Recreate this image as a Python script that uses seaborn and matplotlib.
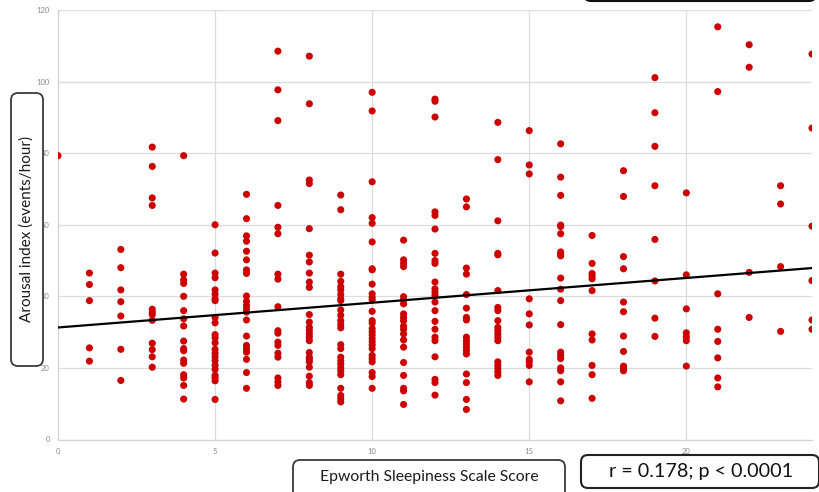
import numpy as np
import pandas as pd
import matplotlib
matplotlib.use("Agg")
import matplotlib.pyplot as plt
import seaborn as sns
from matplotlib.patches import FancyBboxPatch
from matplotlib.transforms import IdentityTransform

# arousal index (events/hour) read per Epworth score
score_0 = [79.3]
score_1 = [46.5, 43.3, 38.8, 25.6, 21.9]
score_2 = [53.1, 48.0, 41.8, 38.5, 34.5, 25.2, 16.5]
score_3 = [81.7, 76.3, 67.5, 65.4, 36.4, 35.6, 34.9, 33.3, 26.9, 25.1, 23.1, 20.2]
score_4 = [79.3, 46.2, 44.6, 43.6, 40.0, 36.0, 33.7, 31.7, 27.5, 25.4, 24.8, 22.2,
           21.3, 18.1, 17.2, 15.1, 11.3]
score_5 = [60.0, 52.1, 46.5, 45.2, 41.8, 40.6, 39.3, 38.8, 34.1, 32.6, 29.3, 28.4,
           27.0, 25.2, 24.1, 23.1, 22.0, 20.7, 19.6, 17.9, 17.2, 16.4, 11.2]
score_6 = [68.5, 61.7, 56.9, 55.4, 52.6, 50.2, 47.4, 46.4, 40.1, 38.6, 37.5, 36.5,
           35.6, 33.4, 28.9, 26.3, 25.4, 24.4, 22.4, 18.7, 14.3]
score_7 = [108.5, 97.7, 89.1, 65.4, 59.3, 57.5, 46.2, 44.8, 37.1, 30.4, 29.7, 27.2,
           26.3, 24.1, 23.0, 17.2, 16.1, 15.1]
score_8 = [107.1, 93.8, 72.5, 71.5, 58.9, 51.5, 49.6, 46.5, 44.0, 42.5, 34.9, 32.8,
           31.3, 30.4, 29.5, 28.6, 27.6, 24.3, 23.0, 22.4, 21.7, 20.2, 17.7, 15.9, 15.1]
score_9 = [68.3, 64.2, 46.2, 44.2, 42.7, 41.8, 40.5, 39.3, 38.8, 36.2, 34.7, 33.2,
           32.1, 31.2, 26.5, 25.4, 23.0, 22.0, 21.1, 20.0, 19.2, 18.1, 14.3, 12.3,
           11.4, 10.5]
score_10 = [97.0, 91.8, 72.0, 62.0, 60.4, 55.2, 47.7, 47.4, 43.4, 40.7, 39.7, 39.0,
            35.8, 33.2, 32.5, 31.0, 30.1, 29.2, 28.2, 27.3, 26.4, 25.4, 23.5, 22.6,
            21.7, 18.7, 17.6, 14.3]
score_11 = [55.7, 50.2, 49.2, 48.3, 39.9, 39.0, 37.9, 35.1, 34.1, 33.2, 31.7, 30.8,
            29.5, 27.8, 25.8, 21.5, 17.9, 14.3, 13.6, 9.8]
score_12 = [95.1, 94.5, 90.1, 63.6, 62.6, 58.8, 52.0, 50.0, 49.2, 44.0, 42.1, 41.2,
            40.3, 38.4, 36.0, 33.0, 30.8, 28.6, 27.6, 23.1, 16.8, 15.9, 12.4]
score_13 = [67.2, 65.0, 47.9, 46.2, 40.5, 36.7, 34.1, 33.4, 28.6, 27.6, 26.7, 25.8,
            24.9, 23.9, 18.3, 15.9, 11.2, 8.4]
score_14 = [88.6, 78.2, 61.1, 52.0, 51.6, 41.6, 36.9, 36.0, 33.2, 31.3, 30.4, 29.5,
            28.6, 27.6, 21.7, 20.7, 19.8, 18.9, 17.9]
score_15 = [86.3, 76.7, 74.2, 39.3, 35.1, 32.0, 24.4, 22.4, 21.7, 20.7, 16.1]
score_16 = [82.6, 73.3, 68.2, 59.9, 59.5, 57.5, 52.4, 51.8, 51.3, 45.1, 42.0, 38.8,
            32.1, 24.4, 23.5, 22.6, 20.0, 19.2, 16.1, 10.8]
score_17 = [57.0, 49.2, 46.4, 45.7, 44.9, 41.6, 29.5, 27.8, 20.7, 18.1, 11.5]
score_18 = [75.1, 67.9, 51.1, 47.7, 38.4, 35.7, 28.9, 24.6, 20.5, 19.8, 19.2]
score_19 = [101.1, 91.3, 81.9, 70.9, 55.9, 44.3, 33.9, 28.8]
score_20 = [68.9, 46.0, 36.5, 29.8, 28.7, 27.6, 20.5]
score_21 = [115.3, 97.2, 40.7, 30.8, 27.4, 22.8, 17.2, 14.7]
score_22 = [110.3, 104.0, 46.7, 34.1]
score_23 = [70.9, 65.8, 48.3, 30.2]
score_24 = [107.7, 87.0, 59.6, 44.4, 33.4, 30.8]

# trend line as drawn in the figure
trend_x = [0, 24]
trend_y = [31.3, 47.9]

x_ticks = [0, 5, 10, 15, 20]
y_ticks = [0, 20, 40, 60, 80, 100, 120]

columns = [score_0, score_1, score_2, score_3, score_4, score_5, score_6, score_7,
           score_8, score_9, score_10, score_11, score_12, score_13, score_14,
           score_15, score_16, score_17, score_18, score_19, score_20, score_21,
           score_22, score_23, score_24]
rows = []
for ess, vals in enumerate(columns):
    for v in vals:
        rows.append((ess, v))
df = pd.DataFrame(rows, columns=["ess", "arousal"])

sns.set_style("white")
plt.rcParams["font.family"] = ["Lato", "DejaVu Sans"]

W, H = 820, 492
fig = plt.figure(figsize=(W / 100, H / 100), dpi=100)
ax = fig.add_axes([58 / W, (H - 439.5) / H, 754 / W, 429.5 / H])

sns.scatterplot(data=df, x="ess", y="arousal", color="#cc0000", s=26,
                edgecolor="none", linewidth=0, ax=ax, zorder=3)
sns.lineplot(x=trend_x, y=trend_y, color="black", linewidth=1.6, ax=ax, zorder=4)

ax.set_xlim(0, 24)
ax.set_ylim(0, 120)
ax.set_xticks(x_ticks)
ax.set_yticks(y_ticks)
ax.grid(True, color="#dcdcdc", linewidth=0.9)
ax.set_axisbelow(True)
for side in ["top", "right"]:
    ax.spines[side].set_visible(False)
for side in ["left", "bottom"]:
    ax.spines[side].set_color("#d4d4d4")
    ax.spines[side].set_linewidth(0.9)
ax.tick_params(length=0, labelsize=5.5, labelcolor="#8a8a8a", pad=6)
ax.set_xlabel("")
ax.set_ylabel("")


def box(x0, y0, x1, y1, lw=1.3, ec="#3a3a3a"):
    # pixel coords measured from top-left
    p = FancyBboxPatch((x0, H - y1), x1 - x0, y1 - y0,
                       boxstyle="round,pad=0,rounding_size=7",
                       transform=IdentityTransform(), facecolor="white",
                       edgecolor=ec, linewidth=lw, zorder=10)
    fig.patches.append(p)


box(11, 93, 43, 366)
box(293, 460, 565, 505)
box(581, 455, 819, 488, lw=1.5, ec="#222222")
box(584, -30, 816, 1, lw=1.5, ec="#111111")

fig.text(27 / W, 1 - 229 / H, "Arousal index (events/hour)", rotation=90,
         ha="center", va="center", fontsize=11, color="#1a1a1a", zorder=11)
fig.text(429 / W, 1 - 477 / H, "Epworth Sleepiness Scale Score",
         ha="center", va="center", fontsize=11.3, color="#1a1a1a", zorder=11)
fig.text(701 / W, 1 - 471 / H, "r = 0.178; p < 0.0001",
         ha="center", va="center", fontsize=14.2, color="#111111", zorder=11)

fig.savefig("out.png", dpi=100)
